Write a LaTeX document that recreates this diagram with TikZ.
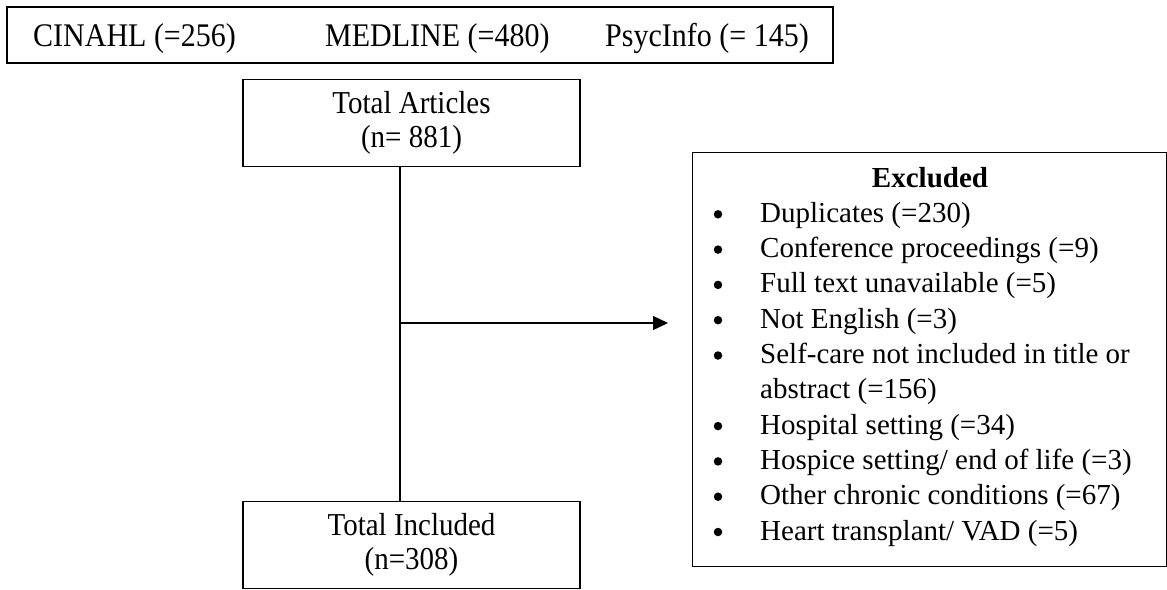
\documentclass[tikz,border=0pt]{standalone}
\usepackage{fontspec}
\usepackage{graphicx}
\setmainfont{Liberation Serif}
\usetikzlibrary{arrows.meta}
\newcommand{\dfont}{\fontsize{29}{34}\selectfont}
\newcommand{\tfont}{\fontsize{30}{34}\selectfont}
\newcommand{\vs}[1]{\scalebox{1}[1.1]{#1}}
\tikzset{
  x=1pt, y=-1pt,
  boxline/.style={draw=black, line width=1.3pt},
  flowbox/.style={boxline, minimum width=337pt, minimum height=87pt, align=center, font=\dfont, inner sep=0pt},
  txt/.style={font=\dfont, inner sep=0pt, anchor=base west},
  toptxt/.style={font=\tfont, inner sep=0pt, anchor=base west},
  bulletdot/.style={circle, fill=black, draw=none, minimum size=8.5pt, inner sep=0pt},
  conn/.style={line width=1.3pt},
}
\begin{document}
\begin{tikzpicture}
\useasboundingbox (0,0) rectangle (1167,589);
% sources box
\node[boxline, minimum width=826pt, minimum height=56pt, inner sep=0pt] (src) at (420,35) {};
\node[toptxt] (cin) at (33,46) {\vs{CINAHL (=256)}};
\node[toptxt] (med) at (325,46) {\vs{MEDLINE (=480)}};
\node[toptxt] (psy) at (605,46) {\vs{PsycInfo (= 145)}};
% flow boxes
\node[flowbox] (ta) at (411.5,123) {\vs{Total Articles}\\\vs{(n= 881)}};
\node[flowbox] (ti) at (411.5,545) {\vs{Total Included}\\\vs{(n=308)}};
% excluded box
\node[boxline, anchor=north west, minimum width=474pt, minimum height=414pt, inner sep=0pt] (ex) at (692,152) {};
\node[font=\dfont\bfseries, inner sep=0pt, anchor=base] (exh) at (930,187) {Excluded};
\foreach [count=\i] \t in {Duplicates (=230), Conference proceedings (=9), Full text unavailable (=5), Not English (=3), Self-care not included in title or}{
  \node[txt] (item\i) at (760,187+35.3*\i) {\t};
  \node[bulletdot] (bul\i) at (718,187+35.3*\i-8) {};
}
\node[txt] (item5b) at (760,187+35.3*6) {abstract (=156)};
\foreach [count=\j] \t in {Hospital setting (=34), Hospice setting/ end of life (=3), Other chronic conditions (=67), Heart transplant/ VAD (=5)}{
  \node[txt] (itemb\j) at (760,187+35.3*6+35.3*\j) {\t};
  \node[bulletdot] (bulb\j) at (718,187+35.3*6+35.3*\j-8) {};
}
% connectors
\coordinate (vx) at (400,0);
\coordinate (branch) at (400,323);
\coordinate (atip) at (668,323);
\draw[conn] (ta.south -| vx) -- (ti.north -| vx);
\draw[conn, -{Triangle[length=15pt,width=14pt]}] (branch) -- (atip);
\end{tikzpicture}
\end{document}
